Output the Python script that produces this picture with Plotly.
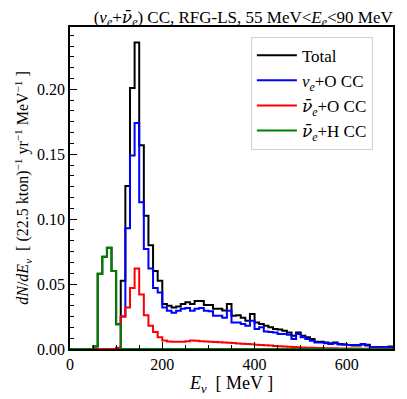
import plotly.graph_objects as go

# 10 MeV bins from 0 to 700 MeV
bin_edges = list(range(0, 710, 10))

total = [
    0, 0, 0, 0, 0, 0.002, 0.058, 0.071, 0.078, 0.060,
    0.019, 0.0526, 0.1256, 0.201, 0.236, 0.157, 0.1026, 0.080, 0.060, 0.0526,
    0.0346, 0.0333, 0.032, 0.0328, 0.0346, 0.036, 0.0346, 0.037, 0.037, 0.0338,
    0.0338, 0.031, 0.031, 0.0296, 0.0346, 0.0256, 0.026, 0.024, 0.0218, 0.027,
    0.0205, 0.0192, 0.018, 0.0167, 0.0154, 0.015, 0.014, 0.0128, 0.0103, 0.0128,
    0.0103, 0.009, 0.0077, 0.0056, 0.0056, 0.005, 0.0045, 0.005, 0.0038, 0.0035,
    0.003, 0.0027, 0.0027, 0.0035, 0.0027, 0.0015, 0.0015, 0.0015, 0.0015, 0.002,
]
nue_O = [
    0, 0, 0, 0, 0, 0, 0, 0, 0, 0,
    0.0008, 0.025, 0.093, 0.149, 0.174, 0.113, 0.077, 0.062, 0.047, 0.0436,
    0.032, 0.0295, 0.028, 0.0295, 0.031, 0.0315, 0.0295, 0.031, 0.0315, 0.0295,
    0.029, 0.0256, 0.0256, 0.024, 0.0295, 0.0205, 0.0205, 0.0192, 0.018, 0.0218,
    0.0154, 0.0167, 0.0135, 0.013, 0.0128, 0.0115, 0.0115, 0.011, 0.0077, 0.0115,
    0.009, 0.0077, 0.0064, 0.005, 0.005, 0.0045, 0.0038, 0.0045, 0.0035, 0.0035,
    0.003, 0.003, 0.003, 0.0038, 0.0032, 0.0015, 0.0015, 0.0015, 0.0015, 0.0015,
]
nuebar_O = [
    0, 0, 0, 0, 0, 0, 0, 0, 0, 0,
    0.001, 0.025, 0.032, 0.047, 0.062, 0.042, 0.026, 0.018, 0.013, 0.009,
    0.0065, 0.0058, 0.0056, 0.0055, 0.0055, 0.006, 0.0066, 0.0064, 0.006, 0.0057,
    0.0055, 0.0053, 0.0052, 0.005, 0.0048, 0.0046, 0.0043, 0.004, 0.0038, 0.0036,
    0.0033, 0.003, 0.0028, 0.0026, 0.0024, 0.0022, 0.002, 0.0018, 0.0016, 0.0014,
    0.0012, 0.001, 0.0009, 0.0008, 0.0007, 0.0006, 0.0005, 0.0005, 0.0004, 0.0004,
    0.0003, 0.0003, 0.0003, 0.0002, 0.0002, 0.0002, 0.0002, 0.0002, 0.0002, 0.0002,
]
nuebar_H = [
    0, 0, 0, 0, 0, 0.002, 0.058, 0.071, 0.078, 0.060,
    0.019, 0, 0, 0, 0, 0, 0, 0, 0, 0,
] + [0] * 50

# nu-bar glyph: DejaVu places the combining macron properly
NUBAR = "<span style='font-family:DejaVu Serif'><i>ν̄</i></span>"

series = [
    ("Total", total, "black"),
    ("<i>ν</i><sub><i>e</i></sub>+O CC", nue_O, "#0000ff"),
    (NUBAR + "<sub><i>e</i></sub>+O CC", nuebar_O, "#ff0000"),
    (NUBAR + "<sub><i>e</i></sub>+H CC", nuebar_H, "#008000"),
]

SERIF = "Liberation Serif, Times New Roman, serif"

fig = go.Figure()
for name, vals, color in series:
    fig.add_trace(
        go.Scatter(
            x=bin_edges,
            y=vals + [vals[-1]],
            mode="lines",
            line=dict(shape="hv", color=color, width=2),
            name=name,
        )
    )

axis_common = dict(
    showline=True,
    linecolor="black",
    linewidth=1.5,
    mirror=True,
    ticks="inside",
    ticklen=7,
    tickwidth=1.3,
    tickcolor="black",
    showgrid=False,
    zeroline=False,
    automargin=False,
    tickfont=dict(family=SERIF, size=16, color="black"),
)

fig.update_xaxes(
    range=[0, 700],
    tickvals=[0, 200, 400, 600],
    minor=dict(dtick=50, ticks="inside", ticklen=4, tickcolor="black"),
    title=dict(text="<i>E</i><sub><i>ν</i></sub>  [ MeV ]",
               font=dict(family=SERIF, size=18, color="black"), standoff=2),
    **axis_common,
)
fig.update_yaxes(
    range=[0, 0.248],
    tickvals=[0, 0.05, 0.10, 0.15, 0.20],
    tickformat=".2f",
    minor=dict(tick0=0, dtick=0.05 / 6, ticks="inside", ticklen=4, tickcolor="black"),
    title=dict(
        text="<i>dN</i>/<i>dE</i><sub><i>ν</i></sub>  [ (22.5 kton)<sup>−1</sup> yr<sup>−1</sup> MeV<sup>−1</sup> ]",
        font=dict(family=SERIF, size=16, color="black"),
        standoff=4,
    ),
    **axis_common,
)

# the page puts the figure 8 px in from the top-left corner
fig.update_layout(
    width=407,
    height=399,
    margin=dict(l=62, r=22, t=19, b=58),
    paper_bgcolor="white",
    plot_bgcolor="white",
    title=dict(
        text="(<i>ν</i><sub><i>e</i></sub>+" + NUBAR + "<sub><i>e</i></sub>) CC, RFG-LS, 55 MeV<<i>E</i><sub><i>e</i></sub><90 MeV",
        font=dict(family=SERIF, size=17, color="black"),
        x=0.578,
        xanchor="center",
        y=0.993,
        yanchor="top",
    ),
    legend=dict(
        x=0.56,
        y=0.97,
        xanchor="left",
        yanchor="top",
        bordercolor="#d0d0d0",
        borderwidth=1,
        bgcolor="white",
        font=dict(family=SERIF, size=17, color="black"),
        tracegroupgap=0,
        itemwidth=40,
    ),
    showlegend=True,
)

fig.write_html("out.html")
